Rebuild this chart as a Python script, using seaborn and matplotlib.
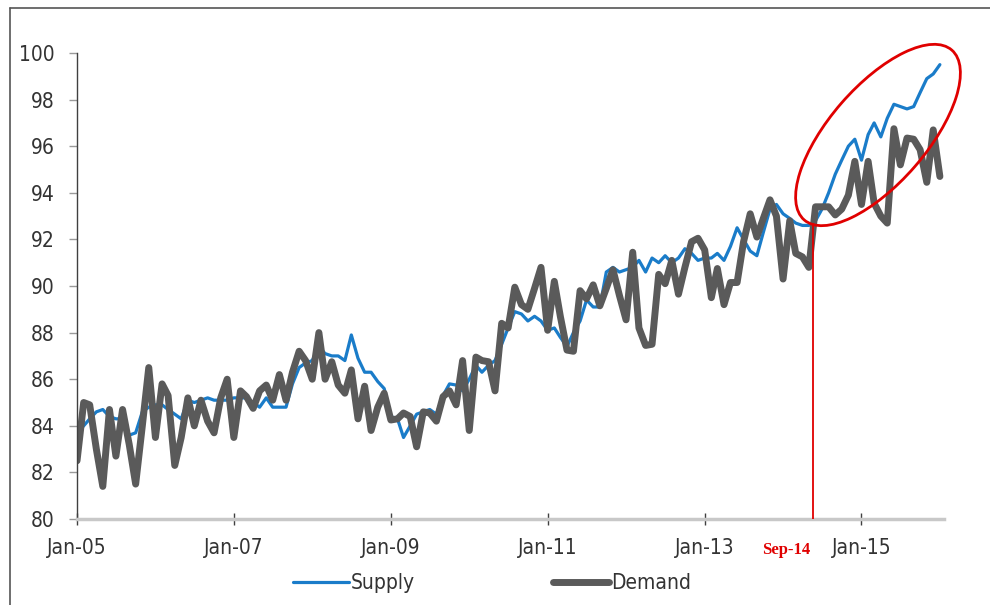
import numpy as np
import pandas as pd
import matplotlib
matplotlib.use("Agg")
import matplotlib.pyplot as plt
import matplotlib.dates as mdates
from matplotlib.patches import Ellipse
from matplotlib.lines import Line2D
from matplotlib.transforms import IdentityTransform
import seaborn as sns

# monthly index, Jan-05 .. Jan-16
months = pd.date_range("2005-01-01", periods=133, freq="MS")

supply = [
    83.7, 84.0, 84.3, 84.6, 84.7, 84.4, 84.3, 84.3, 83.6, 83.7, 84.6, 84.8,
    84.9, 84.9, 84.7, 84.5, 84.3, 85.1, 85.0, 85.1, 85.2, 85.1, 85.1, 85.1,
    85.2, 85.2, 85.2, 85.0, 84.8, 85.2, 84.8, 84.8, 84.8, 85.8, 86.5, 86.7,
    86.8, 87.4, 87.1, 87.0, 87.0, 86.8, 87.9, 86.9, 86.3, 86.3, 85.9, 85.6,
    84.4, 84.3, 83.5, 84.0, 84.5, 84.6, 84.7, 84.5, 85.3, 85.8, 85.75, 85.5,
    86.0, 86.6, 86.3, 86.6, 86.8, 87.5, 88.2, 88.9, 88.8, 88.5, 88.7, 88.5,
    88.1, 88.2, 87.8, 87.4, 88.0, 88.5, 89.4, 89.1, 89.1, 90.6, 90.8, 90.6,
    90.7, 90.8, 91.1, 90.6, 91.2, 91.0, 91.3, 91.0, 91.2, 91.6, 91.4, 91.1,
    91.2, 91.2, 91.4, 91.1, 91.7, 92.5, 92.0, 91.5, 91.3, 92.3, 93.3, 93.5,
    93.1, 92.9, 92.7, 92.6, 92.6, 92.8, 93.3, 94.0, 94.8, 95.4, 96.0, 96.3,
    95.4, 96.5, 97.0, 96.4, 97.2, 97.8, 97.7, 97.6, 97.7, 98.3, 98.9, 99.1,
    99.5,
]

demand = [
    82.5, 85.0, 84.9, 83.0, 81.4, 84.7, 82.7, 84.7, 83.2, 81.5, 84.0, 86.5,
    83.5, 85.8, 85.3, 82.3, 83.5, 85.2, 84.0, 85.1, 84.2, 83.7, 85.2, 86.0,
    83.5, 85.5, 85.25, 84.75, 85.5, 85.75, 85.1, 86.2, 85.1, 86.3, 87.2, 86.8,
    86.0, 88.0, 86.0, 86.75, 85.75, 85.4, 86.4, 84.3, 85.7, 83.8, 84.8, 85.4,
    84.25, 84.3, 84.55, 84.4, 83.1, 84.6, 84.55, 84.2, 85.25, 85.5, 84.9, 86.8,
    83.8, 86.95, 86.8, 86.75, 85.5, 88.4, 88.2, 89.95, 89.2, 89.0, 89.9, 90.8,
    88.1, 90.2, 88.7, 87.25, 87.2, 89.8, 89.45, 90.05, 89.15, 89.9, 90.7, 89.6,
    88.55, 91.45, 88.2, 87.45, 87.5, 90.5, 90.1, 91.1, 89.65, 90.8, 91.9, 92.05,
    91.55, 89.5, 90.75, 89.2, 90.15, 90.15, 91.9, 93.1, 92.1, 92.9, 93.7, 93.0,
    90.3, 92.8, 91.4, 91.25, 90.8, 93.4, 93.4, 93.4, 93.05, 93.3, 93.9, 95.35,
    93.5, 95.35, 93.55, 93.0, 92.7, 96.75, 95.2, 96.35, 96.3, 95.85, 94.45, 96.7,
    94.7,
]

yticks = list(range(80, 101, 2))
xtick_years = [2005, 2007, 2009, 2011, 2013, 2015]
marker_date = pd.Timestamp("2014-05-22")
marker_label = "Sep-14"

df = pd.DataFrame({"date": months, "Supply": supply, "Demand": demand})

sns.set_style("white")
plt.rcParams["font.family"] = ["DejaVu Sans"]
plt.rcParams["font.stretch"] = "condensed"

fig = plt.figure(figsize=(9.9, 6.05), dpi=100)
ax = fig.add_axes([0.0778, 0.1421, 0.8757, 0.7703])

sns.lineplot(data=df, x="date", y="Supply", ax=ax, color="#1a7cc9",
             linewidth=2.3, label="Supply")
sns.lineplot(data=df, x="date", y="Demand", ax=ax, color="#5a5a5a",
             linewidth=5.0, label="Demand")

ax.set_ylim(80, 100)
ax.set_xlim(pd.Timestamp("2005-01-01"), pd.Timestamp("2016-01-20"))
ax.set_yticks(yticks)
ax.set_xticks([pd.Timestamp(f"{y}-01-01") for y in xtick_years])
ax.xaxis.set_major_formatter(mdates.DateFormatter("%b-%y"))
ax.set_xlabel("")
ax.set_ylabel("")

for s in ["top", "right"]:
    ax.spines[s].set_visible(False)
ax.spines["left"].set_color("#404040")
ax.spines["left"].set_linewidth(1.0)
ax.spines["bottom"].set_color("#c8c8c8")
ax.spines["bottom"].set_linewidth(2.5)
ax.tick_params(axis="y", left=True, length=6, width=1, color="#9a9a9a",
               labelsize=15, labelcolor="#333333", pad=10)
ax.tick_params(axis="x", bottom=True, direction="inout", length=9, width=1,
               color="#404040", labelsize=15, labelcolor="#333333", pad=9)

# marker for Sep-14
ax.vlines(marker_date, 80, 92.7, color="#e00000", linewidth=1.3, zorder=5)
ax.text(marker_date - pd.Timedelta(days=125), 78.65, marker_label,
        transform=ax.transData, ha="center", va="center", color="#e00000",
        fontsize=12, fontweight="bold", family="Liberation Serif",
        fontstretch="normal")

# red ellipse highlighting the divergence
ell = Ellipse((878, 470), 225, 97, angle=49, transform=IdentityTransform(),
              fill=False, edgecolor="#e00000", linewidth=2.0)
fig.add_artist(ell)

# figure frame (top and left edges)
fig.add_artist(Line2D([10, 990], [597, 597], transform=IdentityTransform(),
                      color="#555555", linewidth=1.2))
fig.add_artist(Line2D([10, 10], [0, 597], transform=IdentityTransform(),
                      color="#555555", linewidth=1.2))

ax.legend(loc="center", bbox_to_anchor=(0.497, 0.036),
          bbox_transform=fig.transFigure, ncol=2, frameon=False,
          fontsize=15, handlelength=2.7, handletextpad=0.1,
          columnspacing=6.6, labelcolor="#333333")

fig.savefig("out.png", dpi=100)
